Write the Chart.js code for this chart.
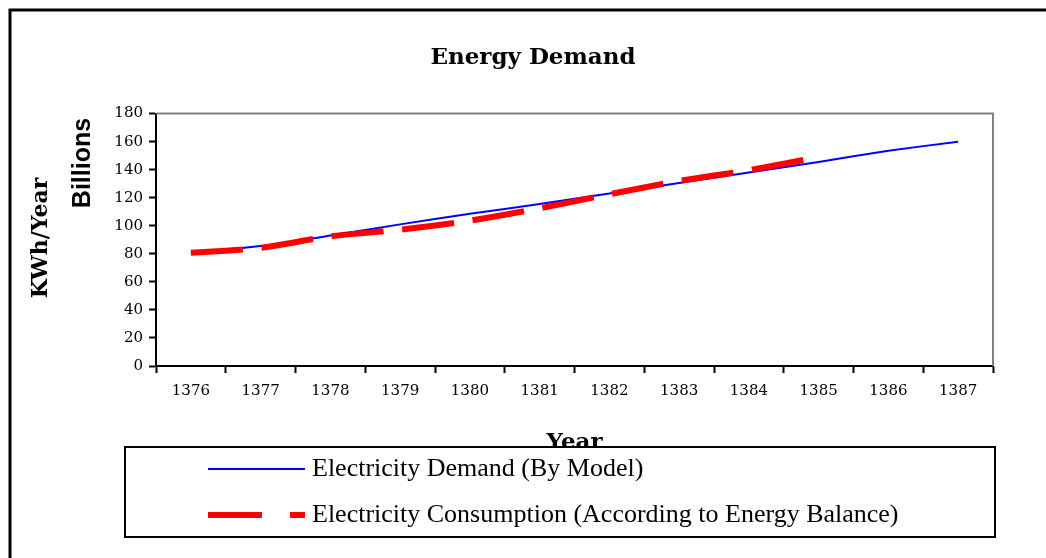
<!DOCTYPE html>
<html>
<head>
<meta charset="utf-8">
<title>Energy Demand</title>
<script src="https://cdn.jsdelivr.net/npm/chart.js@4/dist/chart.umd.min.js"></script>
<style>
  body { margin: 0; background: #fff; }
  #canvas { display: block; }
</style>
</head>
<body>
<canvas id="canvas" width="1046" height="558"></canvas>
<script>
// values (billions KWh / year)
var years = ['1376', '1377', '1378', '1379', '1380', '1381', '1382', '1383', '1384', '1385', '1386', '1387'];
var demandModel = [80.5, 85.5, 93, 101, 108.5, 115.5, 123, 130.5, 138, 145.5, 153.5, 160];
var consumptionBalance = [80.7, 84.2, 92.5, 97.2, 103.6, 112.4, 122.5, 132, 139.6, 149, null, null];
var yTicks = [0, 20, 40, 60, 80, 100, 120, 140, 160, 180];

var seriesNames = ['Electricity Demand (By Model)', 'Electricity Consumption (According to Energy Balance)'];

var serif = "'DejaVu Serif', serif";

// frame, axis titles, plot border and the boxed legend
var extras = {
    id: 'extras',
    beforeDraw: function(chart) {
        var ctx = chart.ctx;
        ctx.save();
        ctx.fillStyle = '#fff';
        ctx.fillRect(0, 0, chart.width, chart.height);
        ctx.strokeStyle = '#000';
        ctx.lineWidth = 3;
        ctx.beginPath();
        ctx.moveTo(10, chart.height);
        ctx.lineTo(10, 10);
        ctx.lineTo(chart.width, 10);
        ctx.stroke();
        ctx.restore();
    },
    afterDraw: function(chart) {
        var ctx = chart.ctx;
        var area = chart.chartArea;
        ctx.save();

        // grey top / right border of the plot
        ctx.strokeStyle = '#808080';
        ctx.lineWidth = 2;
        ctx.beginPath();
        ctx.moveTo(area.left, area.top);
        ctx.lineTo(area.right, area.top);
        ctx.lineTo(area.right, area.bottom);
        ctx.stroke();

        // y axis titles
        ctx.fillStyle = '#000';
        ctx.textAlign = 'center';
        ctx.textBaseline = 'middle';
        ctx.save();
        ctx.translate(41, 238);
        ctx.rotate(-Math.PI / 2);
        ctx.font = "bold 22px " + serif;
        ctx.fillText('KWh/Year', 0, 0);
        ctx.restore();
        ctx.save();
        ctx.translate(83, 163);
        ctx.rotate(-Math.PI / 2);
        ctx.font = "bold 25px 'Liberation Sans', Arial, sans-serif";
        ctx.fillText('Billions', 0, 0);
        ctx.restore();

        // legend box
        ctx.fillStyle = '#fff';
        ctx.fillRect(125, 447, 870, 90);
        ctx.strokeStyle = '#000';
        ctx.lineWidth = 2;
        ctx.strokeRect(125, 447, 870, 90);

        var rows = [469, 515];
        var sets = chart.data.datasets;
        for (var i = 0; i < sets.length; i++) {
            var ds = sets[i];
            ctx.beginPath();
            ctx.strokeStyle = ds.borderColor;
            ctx.lineWidth = ds.borderWidth;
            ctx.setLineDash(ds.borderDash ? [54, 28] : []);
            ctx.moveTo(208, rows[i]);
            ctx.lineTo(305, rows[i]);
            ctx.stroke();
            ctx.setLineDash([]);
            ctx.fillStyle = '#000';
            ctx.textAlign = 'left';
            ctx.textBaseline = 'middle';
            ctx.font = "26px 'Liberation Serif', serif";
            ctx.fillText(ds.label, 312, rows[i]);
        }
        ctx.restore();
    }
};

var config = {
    type: 'line',
    data: {
        labels: years,
        datasets: [{
            label: seriesNames[0],
            data: demandModel,
            borderColor: '#0000ff',
            borderWidth: 2,
            pointRadius: 0,
            tension: 0.2,
            fill: false,
            order: 1
        }, {
            label: seriesNames[1],
            data: consumptionBalance,
            borderColor: '#ff0000',
            borderWidth: 6,
            borderDash: [52, 19],
            borderCapStyle: 'butt',
            pointRadius: 0,
            tension: 0.2,
            fill: false,
            spanGaps: false,
            order: 0
        }]
    },
    options: {
        responsive: false,
        animation: false,
        layout: {
            padding: { left: 73, right: 53, top: 0, bottom: 0 }
        },
        plugins: {
            legend: { display: false },
            tooltip: { enabled: false },
            title: {
                display: true,
                text: 'Energy Demand',
                color: '#000',
                font: { family: serif, size: 23, weight: 'bold' },
                padding: { top: 44, bottom: 42 }
            }
        },
        scales: {
            x: {
                offset: true,
                grid: {
                    offset: true,
                    drawOnChartArea: false,
                    tickLength: 7,
                    tickWidth: 2,
                    tickColor: '#000'
                },
                border: { color: '#000', width: 2 },
                ticks: {
                    color: '#000',
                    font: { family: serif, size: 15 },
                    padding: 9,
                    maxRotation: 0
                },
                title: {
                    display: true,
                    text: 'Year',
                    color: '#000',
                    font: { family: serif, size: 23, weight: 'bold' },
                    padding: { top: 0, bottom: 101 }
                },
                afterFit: function(scale) { scale.height = 192; }
            },
            y: {
                min: 0,
                max: 180,
                afterBuildTicks: function(scale) {
                    scale.ticks = yTicks.map(function(v) { return { value: v }; });
                },
                grid: {
                    drawOnChartArea: false,
                    tickLength: 7,
                    tickWidth: 2,
                    tickColor: '#000'
                },
                border: { color: '#000', width: 2 },
                ticks: {
                    color: '#000',
                    font: { family: serif, size: 15 },
                    padding: 6
                },
                afterFit: function(scale) { scale.width = 83; }
            }
        }
    },
    plugins: [extras]
};

window.onload = function() {
    var ctx = document.getElementById('canvas').getContext('2d');
    window.myLine = new Chart(ctx, config);
};
</script>
</body>
</html>
